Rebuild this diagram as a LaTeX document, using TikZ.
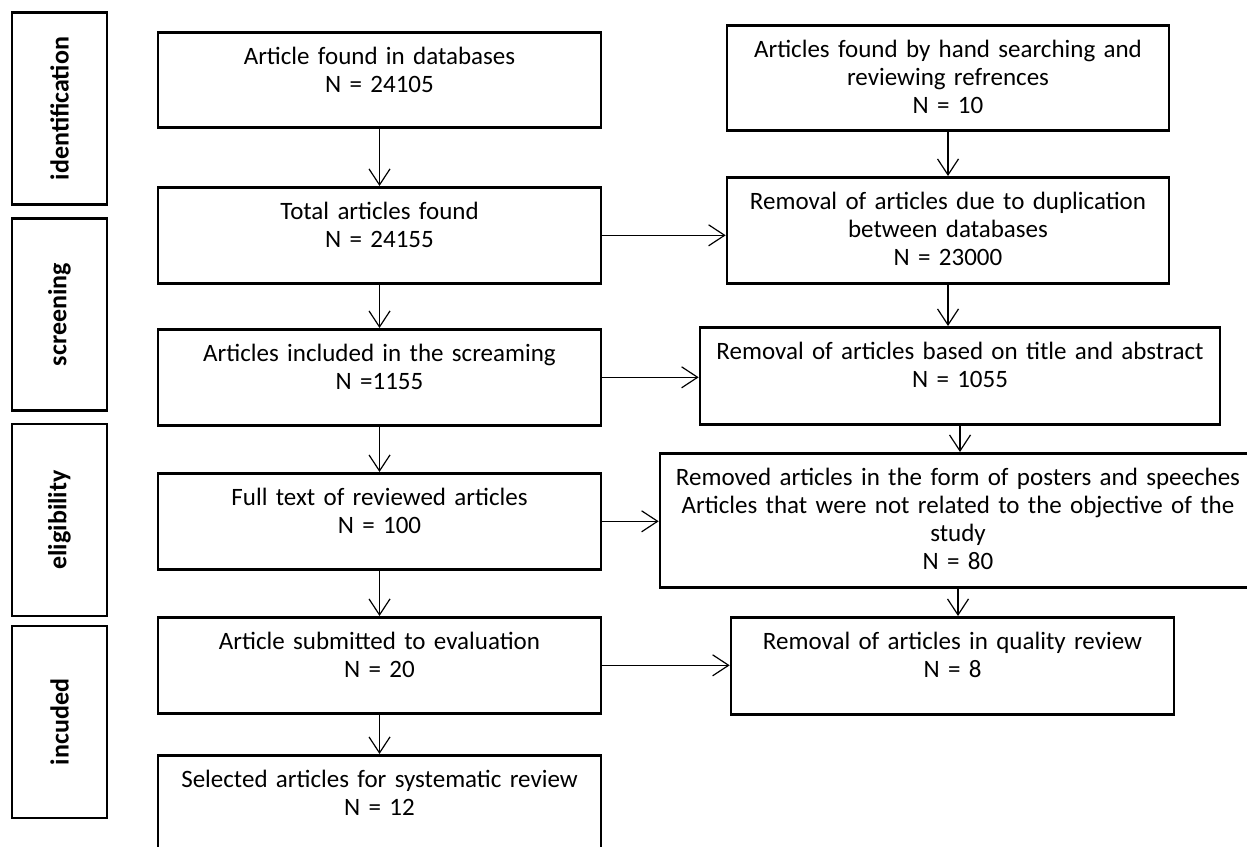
\documentclass[tikz,border=0pt]{standalone}
\usepackage{fontspec}
\setmainfont{Carlito}
\usetikzlibrary{arrows.meta}

\begin{document}
\begin{tikzpicture}[
	x=0.5pt, y=-0.5pt,
	rec/.style   = {draw, rectangle, line width=1.3pt, inner sep=0pt, anchor=north, align=center,
	                text height=16pt, font=\fontsize{12.5}{14}\selectfont},
	main/.style  = {rec, text width=221.5pt, text depth=32pt},
	stage/.style = {draw, rectangle, line width=1.3pt, inner sep=0pt, rotate=90,
	                minimum width=96pt, minimum height=47.5pt, font=\fontsize{13}{15}\selectfont\bfseries},
	>={Straight Barb[length=8pt,width=10.5pt]}]
	
	\useasboundingbox (0,0) rectangle (1247,846);
	
	% stages on the left
	\node[stage] (s1) at (59.5,108.5) {identification};
	\node[stage] (s2) at (59.5,314.5) {screening};
	\node[stage] (s3) at (59.5,520)   {eligibility};
	\node[stage] (s4) at (59.5,722)   {incuded};
	
	% main column
	\node[main, text depth=31.5pt] (c1) at (379.5,31) {Article found in databases\\ N = 24105};
	\node[main] (c2) at (379.5,186) {Total articles found\\ N = 24155};
	\node[main] (c3) at (379.5,328) {Articles included in the screaming\\ N =1155};
	\node[main] (c4) at (379.5,472) {Full text of reviewed articles\\ N = 100};
	\node[main] (c5) at (379.5,616) {Article submitted to evaluation\\ N = 20};
	\node[main, text depth=36pt] (c6) at (379.5,754) {Selected articles for systematic review\\ N = 12};
	
	% removed articles, right column
	\node[rec, text width=221pt, text depth=36.5pt] (r1) at (948,24)
		{Articles found by hand searching and\\ reviewing refrences\\ N = 10};
	\node[rec, text width=221pt, text depth=37pt] (r2) at (948,176)
		{Removal of articles due to duplication\\ between databases\\ N = 23000};
	\node[rec, text width=260pt, text depth=32.5pt] (r3) at (960,326)
		{Removal of articles based on title and abstract\\ N = 1055};
	\node[rec, text width=298pt, text depth=51pt] (r4) at (958,452)
		{Removed articles in the form of posters and speeches\\ Articles that were not related to the objective of the\\ study\\ N = 80};
	\node[rec, text width=221.5pt, text depth=32.5pt] (r5) at (952.5,616)
		{Removal of articles in quality review\\ N = 8};
	
	% arrows
	\foreach \a/\b in {c1/c2,c2/c3,c3/c4,c4/c5,c5/c6}
	\draw[->, line width=0.6pt] (\a.south) -- (\b.north);
	
	\foreach \a/\b in {r1/r2,r2/r3,r3/r4,r4/r5}
	\draw[->, line width=0.6pt] (\a.south) -- (\a.south |- \b.north);
	
	\foreach \a/\b in {c2/r2,c3/r3,c4/r4,c5/r5}
	\draw[->, line width=0.6pt] (\a.east) -- (\a.east -| \b.west);
\end{tikzpicture}
\end{document}
